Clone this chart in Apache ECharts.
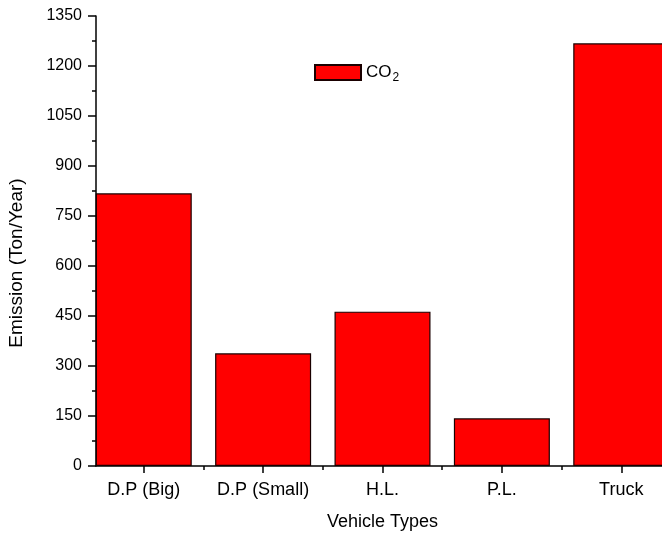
<!DOCTYPE html>
<html>
<head>
<meta charset="utf-8">
<script src="https://cdn.jsdelivr.net/npm/echarts@6/dist/echarts.min.js"></script>
<style>html,body{margin:0;padding:0;background:#fff}#c{width:662px;height:534px}</style>
</head>
<body>
<div id="c"></div>
<script>
var categories = ['D.P (Big)', 'D.P (Small)', 'H.L.', 'P.L.', 'Truck'];
var co2Values = [818, 338, 463, 143, 1268];
var yTicks = [0, 150, 300, 450, 600, 750, 900, 1050, 1200, 1350];

var positions = categories.map(function (c, i) { return i + 1; });
var barData = co2Values.map(function (v, i) { return [positions[i], v]; });
var halfPositions = positions.slice(0, -1).map(function (p) { return p + 0.5; });

var font = 'Liberation Sans, Arial, sans-serif';
var chart = echarts.init(document.getElementById('c'), null, { renderer: 'canvas' });
chart.setOption({
  animation: false,
  backgroundColor: '#fff',
  grid: { left: 96, top: 16, bottom: 68, right: -7, containLabel: false, outerBoundsMode: 'none' },
  legend: {
    show: true,
    left: 314, top: 64, padding: 0,
    itemWidth: 46, itemHeight: 15, itemGap: 6,
    icon: 'rect',
    data: ['CO2'],
    formatter: function () { return '{a|CO}{b|2}'; },
    textStyle: {
      rich: {
        a: { fontFamily: font, fontSize: 17, color: '#000' },
        b: { fontFamily: font, fontSize: 12, color: '#000', padding: [10, 0, 0, 1] }
      }
    }
  },
  xAxis: [{
    type: 'value', min: 0.6, max: 5.4,
    name: 'Vehicle Types', nameLocation: 'middle', nameGap: 47,
    nameTextStyle: { fontFamily: font, fontSize: 18, color: '#000' },
    axisLine: { show: true, lineStyle: { color: '#000', width: 1.5 } },
    axisTick: { show: true, customValues: positions, length: 7, inside: false, lineStyle: { color: '#000', width: 1.5 } },
    axisLabel: {
      customValues: positions, margin: 15,
      fontFamily: font, fontSize: 18, color: '#000',
      formatter: function (v) { return categories[Math.round(v) - 1] || ''; }
    },
    splitLine: { show: false }
  }, {
    type: 'value', min: 0.6, max: 5.4, position: 'bottom',
    axisLine: { show: false },
    axisTick: { show: true, customValues: halfPositions, length: 4, lineStyle: { color: '#000', width: 1.5 } },
    axisLabel: { show: false },
    splitLine: { show: false }
  }],
  yAxis: {
    type: 'value', min: 0, max: 1350, interval: 150,
    name: 'Emission (Ton/Year)', nameLocation: 'middle', nameGap: 70,
    nameTextStyle: { fontFamily: font, fontSize: 19, color: '#000', padding: [0, 44, 0, 0] },
    axisLine: { show: true, lineStyle: { color: '#000', width: 1.5 } },
    axisTick: { show: true, length: 8, lineStyle: { color: '#000', width: 1.5 } },
    minorTick: { show: true, splitNumber: 2, length: 4, lineStyle: { color: '#000', width: 1.5 } },
    axisLabel: {
      fontFamily: font, fontSize: 16, color: '#000', margin: 14,
      formatter: function (v) { return yTicks.indexOf(v) >= 0 ? String(v) : ''; }
    },
    splitLine: { show: false }
  },
  series: [{
    name: 'CO2', type: 'bar', xAxisIndex: 0,
    data: barData,
    barWidth: 96,
    itemStyle: { color: '#ff0000', borderColor: '#1a0000', borderWidth: 1.2 }
  }]
});
</script>
</body>
</html>
